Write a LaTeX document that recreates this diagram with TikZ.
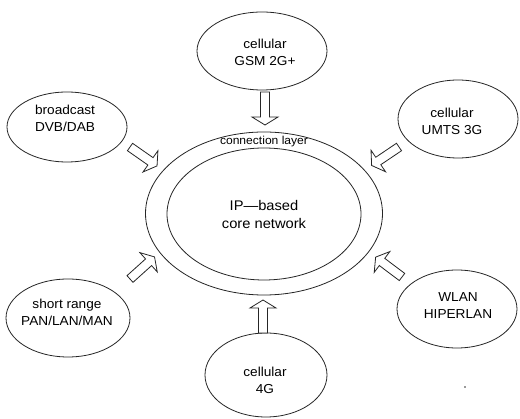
\documentclass[tikz,border=0pt]{standalone}
\usepackage{fontspec}
\setmainfont[FakeStretch=1.05]{Liberation Sans}
\usetikzlibrary{shapes.geometric}
\begin{document}
\begin{tikzpicture}[x=1pt,y=-1pt,
  outline/.style={draw=black!85, line width=0.8pt},
  oval/.style={outline, ellipse, inner sep=0pt},
  lbl/.style={align=center, font=\fontsize{13}{17}\selectfont, inner sep=0pt},
  blockarrow/.pic={\draw[outline, fill=white, line join=miter]
      (0,-4.5) -- (25,-4.5) -- (25,-13) -- (33,0) -- (25,13) -- (25,4.5) -- (0,4.5) -- cycle;}
]
\fill[white] (0,0) rectangle (520,419);
\useasboundingbox (0,0) rectangle (520,419);

% core network with its connection layer
\node[oval, minimum width=237pt, minimum height=163pt] (layer) at (264,213.5) {};
\node[oval, minimum width=194pt, minimum height=132pt] (core) at (264,214) {};
\node[lbl, font=\fontsize{11.5}{14}\selectfont, inner sep=1pt] (layertext) at (264,141.5) {connection layer};
\node[lbl, font=\fontsize{14}{18}\selectfont] (coretext) at (264,214) {IP---based\\core network};

% access networks around the core
\node[oval, minimum width=130pt, minimum height=78pt] (gsm) at (262,51) {};
\node[lbl] (gsmtext) at (265,52) {cellular\\GSM 2G+};

\node[oval, minimum width=120pt, minimum height=70pt] (bcast) at (67,127) {};
\node[lbl] (bcasttext) at (65,118) {broadcast\\DVB/DAB};

\node[oval, minimum width=120pt, minimum height=78pt] (umts) at (458,119) {};
\node[lbl] (umtstext) at (452,121) {cellular\\UMTS 3G};

\node[oval, minimum width=124pt, minimum height=78pt] (short) at (68,318) {};
\node[lbl] (shorttext) at (67,312) {short range\\PAN/LAN/MAN};

\node[oval, minimum width=120pt, minimum height=78pt] (wlan) at (457,309) {};
\node[lbl] (wlantext) at (458,306) {WLAN\\HIPERLAN};

\node[oval, minimum width=122pt, minimum height=84pt] (fourg) at (266,375) {};
\node[lbl] (fourgtext) at (265,380) {cellular\\4G};

% block arrows feeding the connection layer
\pic[rotate=-90] at (265,92) {blockarrow};
\pic[rotate=-35] at (130,147) {blockarrow};
\pic[rotate=214] at (399,147) {blockarrow};
\pic[rotate=42] at (130,279) {blockarrow};
\pic[rotate=143] at (402,277) {blockarrow};
\pic[rotate=90] at (263,333) {blockarrow};

\fill[black!80] (465,387) circle (0.8);
\end{tikzpicture}
\end{document}
